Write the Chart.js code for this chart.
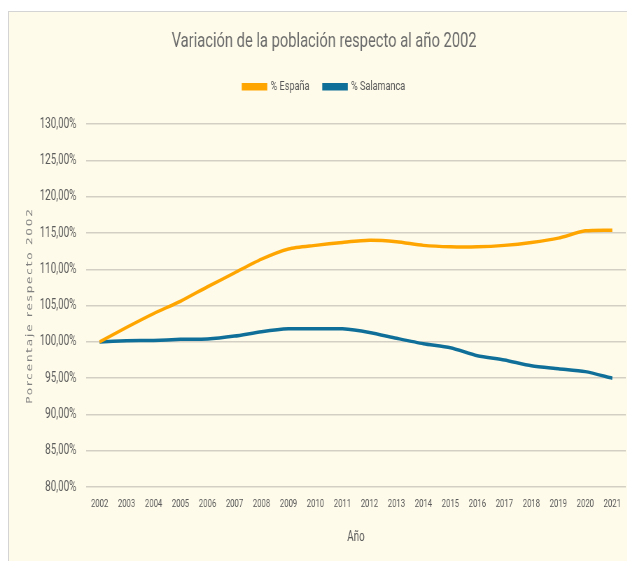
<!DOCTYPE html>
<html>
<head>
<meta charset="utf-8">
<script src="https://cdn.jsdelivr.net/npm/chart.js@4.4.0/dist/chart.umd.min.js"></script>
<style>
  html, body { margin: 0; padding: 0; background: #fff; overflow: hidden; width: 627px; height: 561px; }
  #frame { position: absolute; left: 8px; top: 11px; width: 640px; height: 570px; background: #fefbea; border: 1px solid #d4d4d4; }
  /* the reference is squeezed horizontally, so the canvas is drawn wide and scaled down in x */
  #chart { position: absolute; left: 0; top: 0; transform: scaleX(0.7); transform-origin: 0 0; }
</style>
</head>
<body>
<div id="frame"></div>
<canvas id="chart" width="926" height="561"></canvas>
<script>
const years = ['2002', '2003', '2004', '2005', '2006', '2007', '2008', '2009', '2010', '2011',
               '2012', '2013', '2014', '2015', '2016', '2017', '2018', '2019', '2020', '2021'];
const espana = [100.0, 102.0, 103.9, 105.6, 107.6, 109.5, 111.4, 112.8, 113.3, 113.7,
                114.0, 113.8, 113.3, 113.1, 113.1, 113.3, 113.7, 114.3, 115.3, 115.4];
const salamanca = [100.0, 100.15, 100.2, 100.35, 100.4, 100.8, 101.4, 101.8, 101.8, 101.8,
                   101.3, 100.5, 99.75, 99.2, 98.1, 97.5, 96.7, 96.3, 95.9, 95.0];
const yMin = 80, yMax = 130, yStep = 5;

const font = "Roboto, 'Liberation Sans', sans-serif";

const tweaks = {
    id: 'tweaks',
    beforeLayout(chart) {
        // extra room between the legend and the plot
        const lg = chart.legend;
        if (lg && !lg._tweaked) {
            const fit = lg.fit;
            lg.fit = function() {
                fit.apply(this, arguments);
                this.height += 21;
            };
            lg._tweaked = true;
        }
    },
    beforeDraw(chart) {
        // letter-spaced vertical axis title
        const y = chart.scales.y;
        if (y && !y._spaced) {
            const orig = y.drawTitle;
            y.drawTitle = function() {
                chart.ctx.save();
                chart.ctx.letterSpacing = '1.8px';
                orig.apply(this, arguments);
                chart.ctx.restore();
            };
            y._spaced = true;
        }
    }
};

new Chart(document.getElementById('chart'), {
    type: 'line',
    data: {
        labels: years,
        datasets: [{
            label: '% España',
            data: espana,
            borderColor: '#ffa500',
            backgroundColor: '#ffa500',
            borderWidth: 3.5,
            pointRadius: 0,
            tension: 0.25
        }, {
            label: '% Salamanca',
            data: salamanca,
            borderColor: '#0f6f98',
            backgroundColor: '#0f6f98',
            borderWidth: 3.5,
            pointRadius: 0,
            tension: 0.25
        }]
    },
    options: {
        responsive: false,
        animation: false,
        layout: { padding: { left: 32, right: 32, top: 0, bottom: 0 } },
        plugins: {
            title: {
                display: true,
                text: 'Variación de la población respecto al año 2002',
                color: '#6b6b6b',
                font: { family: font, size: 21, weight: 'normal' },
                padding: { top: 29, bottom: 6 }
            },
            legend: {
                labels: {
                    color: '#595959',
                    font: { family: font, size: 13 },
                    boxWidth: 33,
                    boxHeight: 4,
                    padding: 20
                }
            },
            tooltip: { enabled: false }
        },
        scales: {
            x: {
                offset: true,
                grid: { display: false, drawTicks: false },
                border: { display: false },
                ticks: { color: '#595959', font: { family: font, size: 11 }, padding: 11, maxRotation: 0, autoSkip: false },
                title: { display: true, text: 'Año', color: '#595959', font: { family: font, size: 14 }, padding: { top: 7, bottom: 15 } }
            },
            y: {
                min: yMin,
                max: yMax,
                afterFit: s => { s.width = 91; },
                grid: { color: '#d3cfc4', lineWidth: 1.5, drawTicks: false },
                border: { display: false },
                ticks: {
                    stepSize: yStep,
                    color: '#595959',
                    font: { family: font, size: 14 },
                    padding: 14,
                    callback: v => v.toFixed(2).replace('.', ',') + '%'
                },
                title: {
                    display: true,
                    text: 'Porcentaje respecto 2002',
                    color: '#808080',
                    font: { family: "'DejaVu Sans', sans-serif", size: 12 },
                    padding: { top: 4, bottom: 0 }
                }
            }
        }
    },
    plugins: [tweaks]
});
</script>
</body>
</html>
